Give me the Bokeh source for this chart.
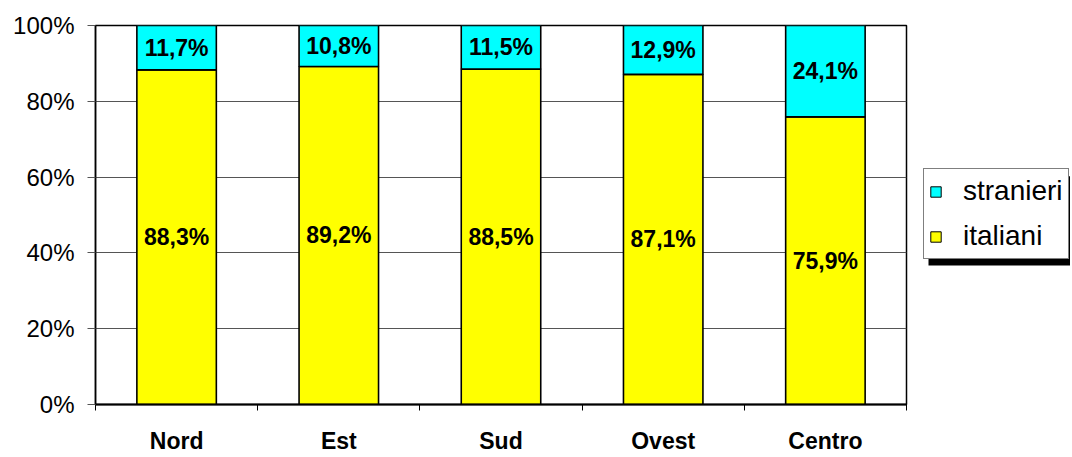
from bokeh.plotting import figure
from bokeh.layouts import row
from bokeh.models import (ColumnDataSource, FixedTicker, PrintfTickFormatter, LabelSet,
                          Legend, LegendItem, Range1d, BoxAnnotation)
from bokeh.core.properties import value
from bokeh.embed import file_html
from bokeh.resources import INLINE

regions = ["Nord", "Est", "Sud", "Ovest", "Centro"]
italiani = [88.3, 89.2, 88.5, 87.1, 75.9]
stranieri = [11.7, 10.8, 11.5, 12.9, 24.1]
y_ticks = [0, 20, 40, 60, 80, 100]

YELLOW = "#FFFF00"
CYAN = "#00FFFF"
FONT = "Liberation Sans"
H = 456
TOP, BOTTOM = 25, 49
FRAME_H = H - TOP - BOTTOM

xs = [i + 0.5 for i in range(len(regions))]
src = ColumnDataSource(dict(x=xs, italiani=italiani, stranieri=stranieri))

p = figure(width=914, height=H, x_range=Range1d(0, len(regions)), y_range=Range1d(0, 100),
           output_backend="svg", toolbar_location=None,
           min_border_left=95, min_border_right=8, min_border_top=TOP, min_border_bottom=BOTTOM)

rs = p.vbar_stack(["italiani", "stranieri"], x="x", width=0.49, source=src,
                  fill_color=[YELLOW, CYAN], line_color="black", line_width=1.6)


def fmt(v):
    return f"{v:.1f}%".replace(".", ",")


lab_src = ColumnDataSource(dict(
    x=xs + xs,
    y=[v / 2 for v in italiani] + [a + b / 2 for a, b in zip(italiani, stranieri)],
    text=[fmt(v) for v in italiani + stranieri],
))
p.add_layout(LabelSet(x="x", y="y", text="text", source=lab_src, text_align="center",
                      text_baseline="middle", text_font_size="23px", text_font_style="bold",
                      text_font=value(FONT), text_color="black"))

# axes
p.yaxis.ticker = FixedTicker(ticks=y_ticks)
p.yaxis.formatter = PrintfTickFormatter(format="%d%%")
p.yaxis.major_label_text_font = FONT
p.yaxis.major_label_text_font_size = "24px"
p.yaxis.major_label_text_color = "black"
p.yaxis.major_tick_out = 8
p.yaxis.major_tick_in = 0
p.yaxis.major_tick_line_color = "#555555"
p.yaxis.minor_tick_line_color = None
p.yaxis.axis_line_color = "black"
p.yaxis.axis_line_width = 1.5
p.yaxis.major_label_standoff = 13

p.xaxis.ticker = FixedTicker(ticks=xs, minor_ticks=list(range(len(regions) + 1)))
p.xaxis.major_label_overrides = {x: r for x, r in zip(xs, regions)}
p.xaxis.major_label_text_font = FONT
p.xaxis.major_label_text_font_size = "23px"
p.xaxis.major_label_text_font_style = "bold"
p.xaxis.major_label_text_color = "black"
p.xaxis.major_tick_out = 0
p.xaxis.major_tick_in = 0
p.xaxis.minor_tick_out = 6
p.xaxis.minor_tick_in = 0
p.xaxis.minor_tick_line_color = "black"
p.xaxis.axis_line_color = "black"
p.xaxis.axis_line_width = 2
p.xaxis.major_label_standoff = 17

p.xgrid.grid_line_color = None
p.ygrid.ticker = FixedTicker(ticks=y_ticks)
p.ygrid.grid_line_color = "#555555"
p.ygrid.grid_line_width = 1

p.outline_line_color = "black"
p.outline_line_width = 1.5
p.outline_line_alpha = 1
p.background_fill_color = "white"
p.border_fill_color = "white"

# legend panel: a separate figure (pixel-scaled ranges) so the legend and its shadow
# can sit outside the plot frame
LW = 156
lp = figure(width=LW, height=H, output_backend="svg", toolbar_location=None,
            x_axis_type=None, y_axis_type=None,
            x_range=Range1d(0, LW), y_range=Range1d(0, FRAME_H),
            min_border_left=0, min_border_right=0, min_border_top=TOP,
            min_border_bottom=BOTTOM)
lp.outline_line_color = None
lp.grid.visible = False
lp.border_fill_color = "white"
k_it = lp.vbar(x="x", top="italiani", width=0.49, source=src, fill_color=YELLOW,
               line_color="black", visible=False)
k_st = lp.vbar(x="x", top="stranieri", width=0.49, source=src, fill_color=CYAN,
               line_color="black", visible=False)

# legend box geometry (pixels, relative to the legend panel frame)
BX, BY, BW, BH, SH = 9, 145, 146, 90, 5
lp.add_layout(BoxAnnotation(left=BX + SH, right=BX + BW + SH, bottom=BY - SH, top=BY + BH - SH,
                            fill_color="black", fill_alpha=1, line_color=None))

legend = Legend(items=[LegendItem(label="stranieri", renderers=[k_st]),
                       LegendItem(label="italiani", renderers=[k_it])],
                location=(BX, BY), padding=5, spacing=11, glyph_width=13, glyph_height=13,
                label_standoff=21, label_width=100, label_height=34,
                label_text_font=FONT, label_text_font_size="28px", label_text_color="black",
                margin=0, border_line_color="black", border_line_width=1,
                background_fill_color="white", background_fill_alpha=1)
lp.add_layout(legend, "center")

layout = row(p, lp, spacing=0)
open("out.html", "w").write(file_html(layout, INLINE))
